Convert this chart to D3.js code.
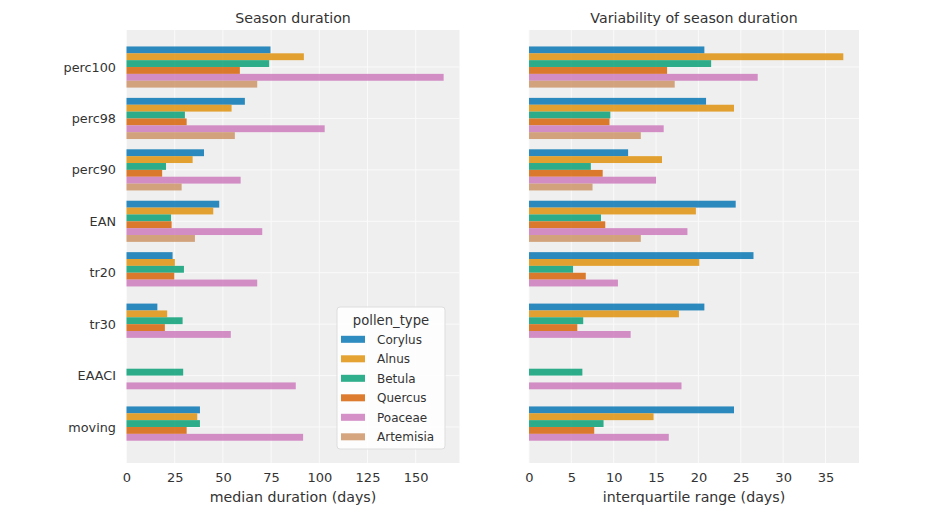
<!DOCTYPE html>
<html>
<head>
<meta charset="utf-8">
<script src="https://cdn.jsdelivr.net/npm/d3@7"></script>
<style>
  html, body { margin: 0; padding: 0; background: #ffffff; }
  svg { display: block; font-family: "DejaVu Sans", sans-serif; }
</style>
</head>
<body>
<svg id="chart" width="950" height="506"></svg>
<script>
// Threshold definitions (rows) and pollen types (hue groups)
const methods = ["perc100", "perc98", "perc90", "EAN", "tr20", "tr30", "EAACI", "moving"];
const pollenTypes = ["Corylus", "Alnus", "Betula", "Quercus", "Poaceae", "Artemisia"];
const palette = ["#0173b2", "#de8f05", "#029e73", "#d55e00", "#cc78bc", "#ca9161"];

// Median season duration (days), one array per pollen type, ordered as `methods`
const medianCorylus   = [74.7, 61.4, 40.2, 48.1, 23.9, 16.0, null, 38.1];
const medianAlnus     = [92.0, 54.5, 34.3, 45.0, 25.1, 21.1, null, 36.7];
const medianBetula    = [74.0, 30.3, 20.5, 23.1, 29.8, 29.1, 29.4, 38.1];
const medianQuercus   = [58.8, 31.2, 18.5, 23.4, 24.8, 19.9, null, 31.2];
const medianPoaceae   = [164.5, 102.8, 59.2, 70.4, 67.8, 54.1, 87.8, 91.6];
const medianArtemisia = [67.8, 56.2, 28.6, 35.5, null, null, null, null];

// Interquartile range of season duration (days)
const iqrCorylus   = [20.7, 20.9, 11.7, 24.4, 26.5, 20.7, null, 24.2];
const iqrAlnus     = [37.1, 24.2, 15.7, 19.7, 20.1, 17.7, null, 14.7];
const iqrBetula    = [21.5, 9.6, 7.3, 8.5, 5.2, 6.4, 6.3, 8.8];
const iqrQuercus   = [16.3, 9.5, 8.7, 9.0, 6.7, 5.7, null, 7.7];
const iqrPoaceae   = [27.0, 15.9, 15.0, 18.7, 10.5, 12.0, 18.0, 16.5];
const iqrArtemisia = [17.2, 13.2, 7.5, 13.2, null, null, null, null];

const medianTicks = [0, 25, 50, 75, 100, 125, 150];
const iqrTicks = [0, 5, 10, 15, 20, 25, 30, 35];

const medianSeries = [medianCorylus, medianAlnus, medianBetula, medianQuercus, medianPoaceae, medianArtemisia];
const iqrSeries = [iqrCorylus, iqrAlnus, iqrBetula, iqrQuercus, iqrPoaceae, iqrArtemisia];

const svg = d3.select("#chart");
const plotTop = 30, plotBottom = 463;
const yScale = d3.scaleLinear().domain([-0.72, 7.7]).range([plotTop, plotBottom]);
const hueWidth = 0.8 / pollenTypes.length;

function panel(opts) {
  const { left, right, series, ticks, title, xlabel, showY } = opts;
  const maxVal = d3.max(series.flat().filter(v => v != null));
  const x = d3.scaleLinear().domain([0, maxVal * 1.05]).range([left, right]);
  const g = svg.append("g");

  g.append("rect")
    .attr("x", left).attr("y", plotTop)
    .attr("width", right - left).attr("height", plotBottom - plotTop)
    .attr("fill", "#efefef");

  // grid
  g.selectAll(".vgrid").data(ticks).join("line")
    .attr("x1", d => x(d)).attr("x2", d => x(d))
    .attr("y1", plotTop).attr("y2", plotBottom)
    .attr("stroke", "#fafafa").attr("stroke-width", 1);
  g.selectAll(".hgrid").data(methods).join("line")
    .attr("x1", left).attr("x2", right)
    .attr("y1", (d, i) => yScale(i)).attr("y2", (d, i) => yScale(i))
    .attr("stroke", "#fafafa").attr("stroke-width", 1);

  // bars
  series.forEach((vals, j) => {
    const rows = vals.map((v, i) => ({ v, i })).filter(d => d.v != null);
    g.selectAll(null).data(rows).join("rect")
      .attr("x", x(0))
      .attr("y", d => yScale(d.i - 0.4 + j * hueWidth))
      .attr("width", d => x(d.v) - x(0))
      .attr("height", yScale(hueWidth) - yScale(0))
      .attr("fill", palette[j])
      .attr("fill-opacity", 0.82);
  });

  // x axis
  const xAxis = d3.axisBottom(x).tickValues(ticks).tickSize(0).tickPadding(0);
  const ax = g.append("g").attr("transform", `translate(0,${plotBottom + 10})`).call(xAxis);
  ax.select(".domain").remove();
  ax.selectAll("text").attr("font-size", 13).attr("fill", "#333").attr("dy", "0.71em")
    .attr("font-family", "DejaVu Sans, sans-serif");

  g.append("text")
    .attr("x", (left + right) / 2).attr("y", 502)
    .attr("text-anchor", "middle").attr("font-size", 14.2).attr("fill", "#333")
    .text(xlabel);

  g.append("text")
    .attr("x", (left + right) / 2).attr("y", 23)
    .attr("text-anchor", "middle").attr("font-size", 14.2).attr("fill", "#333")
    .text(title);

  if (showY) {
    const yAxis = d3.axisLeft(yScale).tickValues(d3.range(methods.length))
      .tickFormat(i => methods[i]).tickSize(0).tickPadding(0);
    const ay = g.append("g").attr("transform", `translate(${left - 10.5},0)`).call(yAxis);
    ay.select(".domain").remove();
    ay.selectAll("text").attr("font-size", 12.8).attr("fill", "#333")
      .attr("font-family", "DejaVu Sans, sans-serif");
  }
  return x;
}

panel({ left: 126.5, right: 459.5, series: medianSeries, ticks: medianTicks,
        title: "Season duration", xlabel: "median duration (days)", showY: true });
panel({ left: 529, right: 859, series: iqrSeries, ticks: iqrTicks,
        title: "Variability of season duration", xlabel: "interquartile range (days)", showY: false });

// legend
const lg = svg.append("g").attr("transform", "translate(337,307)");
lg.append("rect").attr("width", 108).attr("height", 142).attr("rx", 3)
  .attr("fill", "#ffffff").attr("fill-opacity", 0.85).attr("stroke", "#dddddd");
lg.append("text").attr("x", 54).attr("y", 18).attr("text-anchor", "middle")
  .attr("font-size", 13.2).attr("fill", "#333").text("pollen_type");
const items = lg.selectAll(".item").data(pollenTypes).join("g")
  .attr("transform", (d, i) => `translate(0,${32.3 + i * 19.5})`);
items.append("rect").attr("x", 4).attr("y", -3.5).attr("width", 24).attr("height", 7)
  .attr("fill", (d, i) => palette[i]).attr("fill-opacity", 0.82);
items.append("text").attr("x", 40).attr("y", 0).attr("dy", "0.35em")
  .attr("font-size", 12).attr("fill", "#333").text(d => d);
</script>
</body>
</html>
